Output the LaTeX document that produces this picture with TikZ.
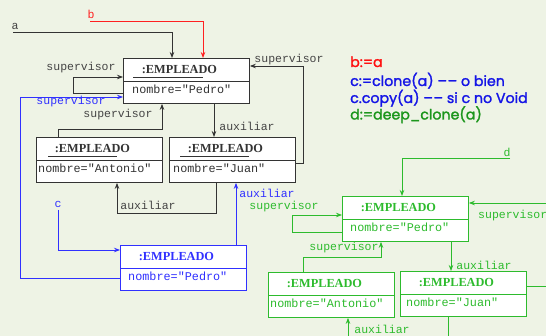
\documentclass[tikz,border=0pt]{standalone}
\usepackage{fontspec}
\setmainfont{Liberation Serif}
\setmonofont{Liberation Mono}
\newfontfamily\gothic[FakeBold=1.6]{Poppins}
\usetikzlibrary{arrows.meta}
\definecolor{bg}{HTML}{EEF3E5}
\definecolor{ink}{HTML}{333333}
\definecolor{lab}{HTML}{444444}
\definecolor{bl}{HTML}{3030FF}
\definecolor{gr}{HTML}{2DBB2D}
\definecolor{rd}{HTML}{FF2020}
\definecolor{tblue}{HTML}{1414E6}
\definecolor{tgreen}{HTML}{1C961C}
\definecolor{tred}{HTML}{FF1010}
\tikzset{
  box/.style={draw, fill=white, line width=0.9pt, minimum width=126pt, minimum height=45pt, inner sep=0pt, anchor=north west},
  ttl/.style={font=\fontsize{12.3}{12}\selectfont\bfseries, inner sep=0pt},
  val/.style={font=\fontsize{11.8}{12}\ttfamily, inner sep=0pt, anchor=west},
  lbl/.style={font=\fontsize{11.5}{12}\ttfamily, inner sep=0pt},
  conn/.style={line width=0.8pt},
  arr/.style={conn, -{Stealth[length=6pt,width=4.5pt]}},
  codeline/.style={font=\fontsize{14.2}{14}\gothic, inner sep=0pt, anchor=base west},
}
\newcommand{\empbox}[6]{%
  \node[box, draw=#4] (#1) at (#2,#3) {};
  \draw[#4, line width=0.9pt] ([yshift=-23pt]#1.north west) -- ([yshift=-23pt]#1.north east);
  \node[ttl, text=#4] (#1t) at ([xshift=-7pt,yshift=-11.5pt]#1.north) {:EMPLEADO};
  \node[val, text=#4] (#1v) at ([xshift=#6pt,yshift=-31.5pt]#1.north west) {nombre="#5"};
}
\begin{document}
\begin{tikzpicture}[x=1pt,y=-1pt]
\useasboundingbox[fill=bg] (0,0) rectangle (546,336);

% ---------- black ----------
\empbox{P}{123}{58}{ink}{Pedro}{9}
\empbox{A}{36}{137}{ink}{Antonio}{2}
\empbox{J}{169}{137}{ink}{Juan}{4}
\draw[ink, line width=0.9pt] ([xshift=10pt,yshift=-19pt]P.north west) -- ++(70,0);
\draw[ink, line width=0.9pt] ([xshift=12pt,yshift=-19pt]A.north west) -- ++(69,0);
\draw[ink, line width=0.9pt] ([xshift=11pt,yshift=-19pt]J.north west) -- ++(69,0);

\node[lbl, text=lab] (la) at (15,26) {a};
\coordinate (a0) at (13,32);
\draw[arr, ink] (a0) -| ([xshift=49pt]P.north west);

\node[lbl, text=rd] (lb) at (91,14) {b};
\coordinate (b0) at (90,21);
\draw[arr, rd] (b0) -| ([xshift=80pt]P.north west);

\draw[arr, ink] ([yshift=-35pt]P.north west) -- ++(-50,0) |- ([yshift=-19pt]P.north west);
\node[lbl, text=lab] (l1) at (81,68) {supervisor};

\draw[arr, ink] ([yshift=-26pt]J.north east) -- ++(7,0) |- ([yshift=-8pt]P.north east);
\node[lbl, text=lab] (l2) at (289,60) {supervisor};

\draw[arr, ink] ([xshift=22pt]A.north west) -- ++(0,-8) -| ([xshift=39pt]P.south west);
\node[lbl, text=lab] (l3) at (118,115) {supervisor};

\draw[arr, ink] ([xshift=91pt]P.south west) -- ([xshift=45pt]J.north west);
\node[lbl, text=lab] (l4) at (247,126) {auxiliar};

\draw[arr, ink] ([xshift=47pt]J.south west) -- ++(0,31) -| ([xshift=81pt]A.south west);
\node[lbl, text=lab] (l5) at (148,205) {auxiliar};

% ---------- blue ----------
\empbox{C}{120}{245}{bl}{Pedro}{8}
\node[lbl, text=bl] (lc) at (58,204) {c};
\coordinate (c0) at (58,210);
\draw[arr, bl] (c0) |- ([yshift=-5pt]C.north west);
\draw[arr, bl] ([yshift=-33pt]C.north west) -- ++(-100,0) |- ([yshift=-39pt]P.north west);
\node[lbl, text=bl] (l6) at (71,102) {supervisor};
\draw[arr, bl] ([xshift=116pt]C.north west) -- ([xshift=67pt]J.south west);
\node[lbl, text=bl] (l7) at (267,193) {auxiliar};

% ---------- green ----------
\empbox{G}{342}{196}{gr}{Pedro}{8}
\empbox{GA}{268}{272}{gr}{Antonio}{2}
\empbox{GJ}{400}{271}{gr}{Juan}{6}

\node[lbl, text=gr] (ld) at (507,152) {d};
\coordinate (d0) at (510,158);
\draw[arr, gr] (d0) -| ([xshift=60pt]G.north west);

\draw[arr, gr] ([yshift=-36pt]G.north west) -- ++(-50,0) |- ([yshift=-19pt]G.north west);
\node[lbl, text=gr] (l8) at (284,207) {supervisor};

\coordinate (gr0) at (547,203);
\draw[arr, gr] (gr0) -- ([yshift=-7pt]G.north east);
\node[lbl, text=gr, anchor=west] (l9) at (478,216) {supervisor};

\draw[arr, gr] ([xshift=35pt]GA.north west) -- ++(0,-15) -| ([xshift=39pt]G.south west);
\node[lbl, text=gr] (l10) at (344,248) {supervisor};

\draw[arr, gr] ([xshift=109pt]G.south west) -- ([xshift=51pt]GJ.north west);
\node[lbl, text=gr] (l11) at (484,265) {auxiliar};

\coordinate (gj1) at (547,286);
\draw[conn, gr] ([yshift=-15pt]GJ.north east) -- (gj1);
\coordinate (gj2) at (448,337);
\draw[conn, gr] ([xshift=48pt]GJ.south west) -- (gj2);
\coordinate (ga1) at (348,337);
\draw[arr, gr] (ga1) -- ([xshift=80pt]GA.south west);
\node[lbl, text=gr] (l12) at (382,329) {auxiliar};

% ---------- code ----------
\node[codeline, text=tred] (t1) at (350,67) {b:=a};
\node[codeline, text=tblue] (t2) at (350,86) {c:=clone(a) –\kern0.5pt– o bien};
\node[codeline, text=tblue] (t3) at (350,103) {c.copy(a) –\kern0.5pt– si c no Void};
\node[codeline, text=tgreen] (t4) at (350,119.5) {d:=deep\_clone(a)};
\end{tikzpicture}
\end{document}
